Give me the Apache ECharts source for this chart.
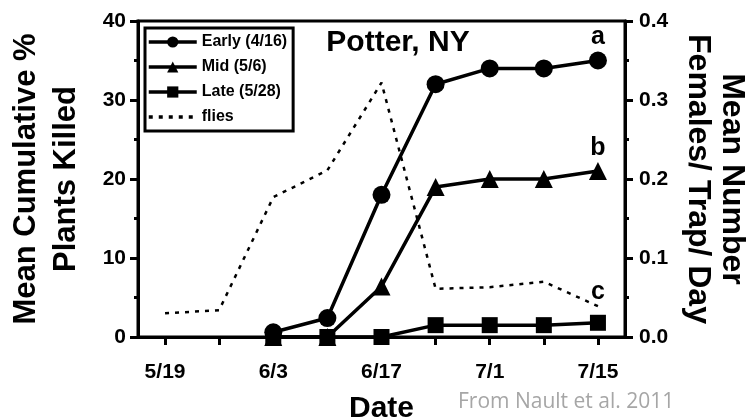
<!DOCTYPE html>
<html>
<head>
<meta charset="utf-8">
<style>
  html, body { margin: 0; padding: 0; background: #fff; }
  #chart { width: 754px; height: 419px; }
</style>
<script src="https://cdn.jsdelivr.net/npm/echarts@6/dist/echarts.min.js"></script>
</head>
<body>
<div id="chart"></div>
<script>
// Sampling dates (weekly); every other one is labelled on the axis
const dates = ['5/19', '5/26', '6/3', '6/10', '6/17', '6/24', '7/1', '7/8', '7/15'];

// Mean cumulative % plants killed, by planting date
const early = [null, null, 0.6, 2.4, 18, 32, 34, 34, 35];
const mid   = [null, null, 0, 0, 6.4, 19, 20, 20, 21];
const late  = [null, null, 0, 0, 0, 1.5, 1.5, 1.5, 1.8];

// Mean number of females per trap per day
const flies = [0.030, 0.034, 0.177, 0.211, 0.322, 0.061, 0.063, 0.070, 0.039];

// Significance letters shown at the final sampling date
const letters = ['a', 'b', 'c'];

const FONT = "'Liberation Sans', Arial, sans-serif";

function withEndLetter(values, letter, distance) {
  return values.map((v, i) => i === values.length - 1
    ? { value: v, label: { show: true, formatter: letter, position: 'top', distance: distance,
        fontFamily: FONT, fontWeight: 'bold', fontSize: 25, color: '#000' } }
    : v);
}

const chart = echarts.init(document.getElementById('chart'), null, { renderer: 'canvas' });

const lineStyle = { color: '#000', width: 3.5 };
const axisStroke = { color: '#000', width: 3 };

chart.setOption({
  animation: false,
  backgroundColor: '#fff',
  title: {
    text: 'Potter, NY',
    left: 393, top: 23, textAlign: 'center',
    textStyle: { fontFamily: FONT, fontWeight: 'bold', fontSize: 30, color: '#000' }
  },
  legend: {
    orient: 'vertical',
    left: 145, top: 28,
    data: [
      'Early (4/16)', 'Mid (5/6)', 'Late (5/28)',
      { name: 'flies', itemStyle: { opacity: 0 } }
    ],
    itemWidth: 48, itemHeight: 14, itemGap: 9,
    borderColor: '#000', borderWidth: 3, borderRadius: 0,
    padding: [6, 6, 6, 2],
    lineStyle: { width: 3.5 },
    textStyle: { fontFamily: FONT, fontWeight: 'bold', fontSize: 16, color: '#000' }
  },
  grid: {
    left: 138, right: 129, top: 21, bottom: 82,
    outerBoundsMode: 'none', containLabel: false,
    show: true, borderColor: '#000', borderWidth: 3, backgroundColor: 'transparent'
  },
  xAxis: {
    type: 'category',
    data: dates,
    boundaryGap: true,
    name: 'Date',
    nameLocation: 'middle',
    nameGap: 57,
    nameTextStyle: { fontFamily: FONT, fontWeight: 'bold', fontSize: 30, color: '#000' },
    axisLine: { lineStyle: axisStroke },
    axisTick: { show: true, alignWithLabel: true, interval: 0, length: 8, lineStyle: axisStroke },
    axisLabel: { interval: 1, margin: 25, fontFamily: FONT, fontWeight: 'bold', fontSize: 21, color: '#000' },
    splitLine: { show: false }
  },
  yAxis: [
    {
      type: 'value',
      min: 0, max: 40, interval: 10,
      name: 'Mean Cumulative %\nPlants Killed',
      nameLocation: 'middle',
      nameRotate: 90,
      nameGap: 52,
      nameTextStyle: { fontFamily: FONT, fontWeight: 'bold', fontSize: 31, lineHeight: 40, color: '#000' },
      axisLine: { show: true, lineStyle: axisStroke },
      axisTick: { show: true, length: 8, lineStyle: axisStroke },
      minorTick: { show: true, splitNumber: 2, length: 4, lineStyle: axisStroke },
      axisLabel: { margin: 12, fontFamily: FONT, fontWeight: 'bold', fontSize: 21, color: '#000' },
      splitLine: { show: false }
    },
    {
      type: 'value',
      position: 'right',
      min: 0, max: 0.4, interval: 0.1,
      name: 'Mean Number\nFemales/ Trap/ Day',
      nameLocation: 'middle',
      nameRotate: -90,
      nameGap: 56,
      nameTextStyle: { fontFamily: FONT, fontWeight: 'bold', fontSize: 32, lineHeight: 34, color: '#000' },
      axisLine: { show: true, lineStyle: axisStroke },
      axisTick: { show: true, length: 8, lineStyle: axisStroke },
      minorTick: { show: true, splitNumber: 2, length: 4, lineStyle: axisStroke },
      axisLabel: { margin: 14, fontFamily: FONT, fontWeight: 'bold', fontSize: 21, color: '#000',
        formatter: v => v.toFixed(1) },
      splitLine: { show: false }
    }
  ],
  graphic: [
    {
      type: 'text',
      left: 458, top: 392,
      style: { text: 'From Nault et al. 2011', fontFamily: "'Open Sans', sans-serif", fontSize: 21, fill: '#a6a6a6' }
    }
  ],
  series: [
    {
      name: 'flies', type: 'line', yAxisIndex: 1,
      data: flies, symbol: 'none',
      lineStyle: { color: '#000', width: 2.5, type: [4, 6] },
      itemStyle: { color: '#000' }, z: 1
    },
    {
      name: 'Early (4/16)', type: 'line', yAxisIndex: 0,
      data: withEndLetter(early, letters[0], 2),
      symbol: 'circle', symbolSize: 18,
      lineStyle: lineStyle, itemStyle: { color: '#000' }, z: 3
    },
    {
      name: 'Mid (5/6)', type: 'line', yAxisIndex: 0,
      data: withEndLetter(mid, letters[1], 1),
      symbol: 'triangle', symbolSize: 18,
      lineStyle: lineStyle, itemStyle: { color: '#000' }, z: 3
    },
    {
      name: 'Late (5/28)', type: 'line', yAxisIndex: 0,
      data: withEndLetter(late, letters[2], 10),
      symbol: 'rect', symbolSize: 16,
      lineStyle: lineStyle, itemStyle: { color: '#000' }, z: 3
    }
  ]
});
</script>
</body>
</html>
